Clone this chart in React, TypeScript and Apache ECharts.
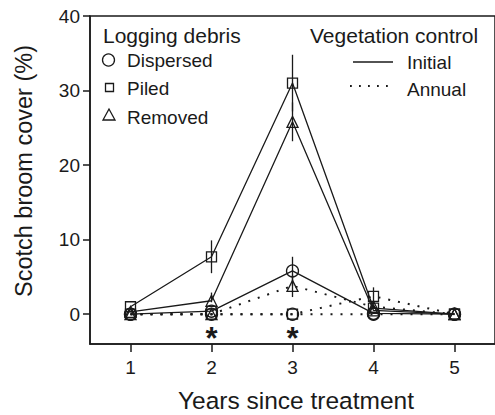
import React, { useEffect, useRef } from 'react';
import * as echarts from 'echarts';

const years = [1, 2, 3, 4, 5];
const dispersedInitial = [0, 0.4, 5.8, 0.1, 0];
const piledInitial = [1.0, 7.7, 31.0, 0.8, 0];
const removedInitial = [0.3, 1.8, 25.8, 0.5, 0];
const dispersedAnnual = [0, 0, 0, 0, 0];
const piledAnnual = [0, 0, 0, 2.4, 0];
const removedAnnual = [0, 0, 3.8, 1.0, 0];
// error bars: [year, low, high]
const errorBars = [
  [2, 5.5, 9.9],
  [3, 27.2, 34.8],
  [3, 23.2, 28.4],
  [3, 3.8, 7.7],
  [3, 2.3, 5.3],
  [4, 1.3, 3.6],
  [2, 1.6, 2.9],
];
const yTicks = [0, 10, 20, 30, 40];
const significantYears = [2, 3];

const FONT = '"Liberation Sans", Arial, sans-serif';
const INK = '#1a1a1a';

function lineSeries(name: string, data: number[], symbol: string, size: number, dotted: boolean) {
  return {
    type: 'line',
    name,
    data: years.map((x, i) => [x, data[i]]),
    symbol,
    symbolSize: size,
    showSymbol: true,
    lineStyle: { color: INK, width: dotted ? 2 : 1.3, type: dotted ? [2, 8] : 'solid' },
    itemStyle: { color: 'rgba(0,0,0,0)', borderColor: INK, borderWidth: 1.3 },
    z: dotted ? 2 : 3,
  };
}

export default function App() {
  const ref = useRef<HTMLDivElement>(null);
  useEffect(() => {
    document.body.style.margin = '0';
    const chart = echarts.init(ref.current!, null, { renderer: 'svg' });
    const option: any = {
      animation: false,
      backgroundColor: '#ffffff',
      textStyle: { fontFamily: FONT },
      grid: {
        left: 90,
        top: 16,
        width: 409.5,
        height: 328,
        show: true,
        borderColor: INK,
        borderWidth: 1.5,
        backgroundColor: 'transparent',
      },
      xAxis: {
        type: 'value',
        min: 0.5,
        max: 5.5,
        axisLine: { show: true, onZero: false, lineStyle: { color: INK, width: 1.5 } },
        axisTick: { show: true, customValues: years, length: 8, lineStyle: { color: INK, width: 1.5 } },
        axisLabel: { customValues: years, margin: 14, fontSize: 19, color: INK, fontFamily: FONT },
        splitLine: { show: false },
      },
      yAxis: {
        type: 'value',
        min: -4,
        max: 40,
        axisLine: { show: true, onZero: false, lineStyle: { color: INK, width: 1.5 } },
        axisTick: { show: true, customValues: yTicks, length: 7, lineStyle: { color: INK, width: 1.5 } },
        axisLabel: { customValues: yTicks, margin: 10, fontSize: 19, color: INK, fontFamily: FONT },
        splitLine: { show: false },
      },
      series: [
        lineSeries('Dispersed annual', dispersedAnnual, 'circle', 12, true),
        lineSeries('Piled annual', piledAnnual, 'rect', 10, true),
        lineSeries('Removed annual', removedAnnual, 'triangle', 11, true),
        lineSeries('Dispersed initial', dispersedInitial, 'circle', 12, false),
        lineSeries('Piled initial', piledInitial, 'rect', 10, false),
        lineSeries('Removed initial', removedInitial, 'triangle', 11, false),
        {
          type: 'custom',
          data: errorBars,
          encode: { x: 0, y: [1, 2] },
          z: 4,
          renderItem: (params: any, api: any) => {
            const x = api.value(0);
            const lo = api.coord([x, api.value(1)]);
            const hi = api.coord([x, api.value(2)]);
            return {
              type: 'line',
              shape: { x1: lo[0], y1: lo[1], x2: hi[0], y2: hi[1] },
              style: { stroke: INK, lineWidth: 1.3 },
            };
          },
        },
        {
          type: 'custom',
          data: significantYears.map((x) => [x, -2.4]),
          encode: { x: 0, y: 1 },
          z: 5,
          renderItem: (params: any, api: any) => {
            const p = api.coord([api.value(0), api.value(1)]);
            return {
              type: 'text',
              x: p[0],
              y: p[1] + 6,
              style: {
                text: '*',
                font: `bold 31px ${FONT}`,
                fill: INK,
                align: 'center',
                verticalAlign: 'middle',
              },
            };
          },
        },
      ],
      graphic: [
        {
          type: 'text',
          x: 24,
          y: 171,
          rotation: Math.PI / 2,
          style: {
            text: 'Scotch broom cover (%)',
            font: `23.5px ${FONT}`,
            fill: INK,
            align: 'center',
            verticalAlign: 'middle',
          },
        },
        {
          type: 'text',
          x: 296,
          y: 400,
          style: {
            text: 'Years since treatment',
            font: `24.5px ${FONT}`,
            fill: INK,
            align: 'center',
            verticalAlign: 'middle',
          },
        },
        { type: 'text', x: 103, y: 35, style: { text: 'Logging debris', font: `21px ${FONT}`, fill: INK, verticalAlign: 'middle' } },
        { type: 'circle', shape: { cx: 108.5, cy: 60, r: 6 }, style: { fill: 'none', stroke: INK, lineWidth: 1.3 } },
        { type: 'text', x: 127, y: 60, style: { text: 'Dispersed', font: `19px ${FONT}`, fill: INK, verticalAlign: 'middle' } },
        { type: 'rect', shape: { x: 105.5, y: 83.5, width: 8, height: 8 }, style: { fill: 'none', stroke: INK, lineWidth: 1.3 } },
        { type: 'text', x: 127, y: 88, style: { text: 'Piled', font: `19px ${FONT}`, fill: INK, verticalAlign: 'middle' } },
        { type: 'polygon', shape: { points: [[109, 109], [103, 120], [115, 120]] }, style: { fill: 'none', stroke: INK, lineWidth: 1.3 } },
        { type: 'text', x: 127, y: 117, style: { text: 'Removed', font: `19px ${FONT}`, fill: INK, verticalAlign: 'middle' } },
        { type: 'text', x: 310, y: 35, style: { text: 'Vegetation control', font: `21px ${FONT}`, fill: INK, verticalAlign: 'middle' } },
        { type: 'line', shape: { x1: 353, y1: 62, x2: 393, y2: 62 }, style: { stroke: INK, lineWidth: 1.3 } },
        { type: 'text', x: 407, y: 62, style: { text: 'Initial', font: `19px ${FONT}`, fill: INK, verticalAlign: 'middle' } },
        { type: 'line', shape: { x1: 350, y1: 86, x2: 394, y2: 86 }, style: { stroke: INK, lineWidth: 1.8, lineDash: [1.8, 7.2] } },
        { type: 'text', x: 407, y: 89, style: { text: 'Annual', font: `19px ${FONT}`, fill: INK, verticalAlign: 'middle' } },
      ],
    };
    chart.setOption(option);
    return () => chart.dispose();
  }, []);
  return <div ref={ref} style={{ width: 495, height: 415 }} />;
}
